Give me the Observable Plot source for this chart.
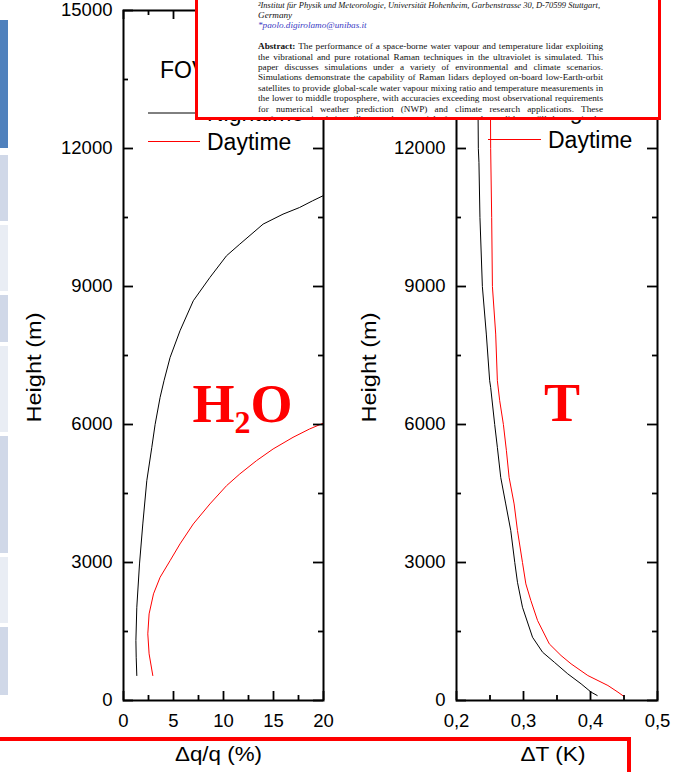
<!DOCTYPE html>
<html>
<head>
<meta charset="utf-8">
<script src="https://cdn.jsdelivr.net/npm/d3@7"></script>
<script src="https://cdn.jsdelivr.net/npm/@observablehq/plot@0.6"></script>
<style>
html, body { margin: 0; padding: 0; background: #fff; }
#page { position: relative; width: 673px; height: 772px; overflow: hidden; background: #fff; font-family: "Liberation Sans", Arial, sans-serif; }
.strip { position: absolute; left: 0; width: 8px; }
.panel { position: absolute; top: 0; }
#left { left: 0; }
#right { left: 340px; }
#abstract { position: absolute; left: 195px; top: -20px; width: 466px; height: 140px; border: 3px solid #f00; box-sizing: border-box; background: #fff; overflow: hidden;
  font-family: "Liberation Serif", "Times New Roman", serif; font-size: 9.2px; line-height: 10.4px; color: #111; padding: 16.6px 0 0 60px; }
.ln { width: 345px; white-space: nowrap; height: 10.4px; }
.it { font-style: italic; }
.mail { color: #3b3bc4; }
#bottombox { position: absolute; left: -10px; top: 737px; width: 641px; height: 80px; border: 4px solid #f00; box-sizing: border-box; }
</style>
</head>
<body>
<div id="page">
  <div class="strip" style="top:20px;height:128px;background:#4f81bd"></div>
  <div class="strip" style="top:155px;height:66px;background:#d0d8e8"></div>
  <div class="strip" style="top:225px;height:66px;background:#e9edf4"></div>
  <div class="strip" style="top:295px;height:47px;background:#d0d8e8"></div>
  <div class="strip" style="top:346px;height:86px;background:#e9edf4"></div>
  <div class="strip" style="top:436px;height:117px;background:#d0d8e8"></div>
  <div class="strip" style="top:557px;height:66px;background:#e9edf4"></div>
  <div class="strip" style="top:627px;height:68px;background:#d0d8e8"></div>
  <div id="left" class="panel"></div>
  <div id="right" class="panel"></div>
  <div id="abstract">
    <div class="ln it fit" data-w="342"><span>²Institut für Physik und Meteorologie, Universität Hohenheim, Garbenstrasse 30, D-70599 Stuttgart,</span></div>
    <div class="ln it">Germany</div>
    <div class="ln it mail">*paolo.digirolamo@unibas.it</div>
    <div class="ln"></div>
    <div class="ln fit" data-w="345"><span><b>Abstract:</b> The performance of a space-borne water vapour and temperature lidar exploiting</span></div>
    <div class="ln fit" data-w="345"><span>the vibrational and pure rotational Raman techniques in the ultraviolet is simulated. This</span></div>
    <div class="ln fit" data-w="345"><span>paper discusses simulations under a variety of environmental and climate scenarios.</span></div>
    <div class="ln fit" data-w="345"><span>Simulations demonstrate the capability of Raman lidars deployed on-board low-Earth-orbit</span></div>
    <div class="ln fit" data-w="345"><span>satellites to provide global-scale water vapour mixing ratio and temperature measurements in</span></div>
    <div class="ln fit" data-w="345"><span>the lower to middle troposphere, with accuracies exceeding most observational requirements</span></div>
    <div class="ln fit" data-w="345"><span>for numerical weather prediction (NWP) and climate research applications. These</span></div>
    <div class="ln fit" data-w="345"><span>performance simulations illustrate the potential of a space-borne lidar to fill the gap in the</span></div>
  </div>
  <div id="bottombox"></div>
</div>
<script>
// ---------- data ----------
const heightTicks = [0, 3000, 6000, 9000, 12000, 15000];
const heightMinor = [1500, 4500, 7500, 10500, 13500];
const h2oTicks = [0, 5, 10, 15, 20];
const h2oMinor = [2.5, 7.5, 12.5, 17.5];
const tTicks = [0.2, 0.3, 0.4, 0.5];
const tMinor = [0.25, 0.35, 0.45];
const seriesNames = ["Nighttime", "Daytime"];
const seriesColors = ["black", "red"];

// [height (m), Δq/q (%)]
const h2oNight = [[543,1.33],[941,1.27],[1303,1.24],[2027,1.33],[2969,1.6],[3838,1.93],[4779,2.33],[5503,2.83],[6000,3.16],[6590,3.66],[6952,4.05],[7458,4.66],[8038,5.65],[8690,6.98],[9196,8.64],[9668,10.3],[9921,11.63],[10356,13.96],[10573,15.95],[10717,17.6],[10862,18.9],[10971,19.94]];
const h2oDay = [[543,2.93],[1014,2.56],[1449,2.43],[1883,2.56],[2318,3.0],[2679,3.66],[3041,4.66],[3404,5.65],[3838,6.98],[4273,8.64],[4671,10.31],[4925,11.63],[5214,13.3],[5468,14.96],[5721,16.95],[5902,18.6],[6025,19.94]];
// [height (m), ΔT (K)]
const tNight = [[109,0.41],[181,0.401],[362,0.386],[580,0.366],[832,0.346],[1049,0.3285],[1375,0.3135],[2027,0.2985],[2570,0.291],[2998,0.287],[3693,0.281],[4273,0.2735],[4851,0.266],[5503,0.261],[6000,0.257],[6807,0.251],[6952,0.2495],[7966,0.2445],[9000,0.2386],[10500,0.235],[11700,0.2335],[12000,0.2326],[13500,0.2318],[15000,0.231]];
const tDay = [[87,0.45],[181,0.441],[326,0.426],[543,0.396],[797,0.371],[978,0.356],[1231,0.3385],[1738,0.321],[2172,0.311],[2535,0.3035],[2998,0.2985],[3693,0.291],[4273,0.286],[4851,0.2785],[5431,0.2745],[6000,0.27],[6517,0.2645],[6952,0.261],[7966,0.2585],[9000,0.2536],[10500,0.2525],[12000,0.251],[13500,0.2505],[15000,0.25]];

const yLabel = "Height (m)";
const h2oXLabel = "\u0394q/q (%)";
const tXLabel = "\u0394T (K)";
const h2oBig = "H2O";
const tBig = "T";
const legendTitle = "FOV";

// ---------- panels ----------
const FONT = "'Liberation Sans', Arial, sans-serif";
function rows(arr, s) { return arr.map(([h, v]) => ({height: h, value: v, series: s})); }

function panel(o) {
  const H = 772, mt = 10, mb = 72;
  const innerH = H - mt - mb;
  const innerW = o.width - o.marginLeft - o.marginRight;
  const svg = Plot.plot({
    width: o.width, height: H,
    marginLeft: o.marginLeft, marginRight: o.marginRight, marginTop: mt, marginBottom: mb,
    style: {fontFamily: FONT, fontSize: "18.5px", color: "black", background: "none", overflow: "visible"},
    x: {domain: o.xDomain},
    y: {domain: [0, 15000]},
    color: {domain: seriesNames, range: seriesColors},
    marks: [
      Plot.line(rows(o.night, seriesNames[0]), {x: "value", y: "height", stroke: "series", strokeWidth: 1}),
      Plot.line(rows(o.day, seriesNames[1]), {x: "value", y: "height", stroke: "series", strokeWidth: 1}),
      Plot.frame({stroke: "black", strokeWidth: 2}),
      Plot.tickX(o.xTicks, {x: d => d, insetTop: innerH - 9, strokeWidth: 1.8}),
      Plot.tickX(o.xMinor, {x: d => d, insetTop: innerH - 5, strokeWidth: 1.8}),
      Plot.tickX(o.xTicks, {x: d => d, insetBottom: innerH - 9, strokeWidth: 1.8}),
      Plot.tickX(o.xMinor, {x: d => d, insetBottom: innerH - 5, strokeWidth: 1.8}),
      Plot.tickY(heightTicks, {y: d => d, insetRight: innerW - 10, strokeWidth: 1.8}),
      Plot.tickY(heightMinor, {y: d => d, insetRight: innerW - 5, strokeWidth: 1.8}),
      Plot.tickY(heightTicks, {y: d => d, insetLeft: innerW - 10, strokeWidth: 1.8}),
      Plot.tickY(heightMinor, {y: d => d, insetLeft: innerW - 5, strokeWidth: 1.8}),
      Plot.axisX({ticks: o.xTicks, tickSize: 0, tickPadding: 13.5, tickFormat: o.xFormat, label: null, fontSize: 18.5}),
      Plot.axisY({ticks: heightTicks, tickSize: 0, tickPadding: 11, tickFormat: d => String(d), label: null, fontSize: 18.5}),
      Plot.text([yLabel], {text: d => d, frameAnchor: "left", textAnchor: "middle", lineAnchor: "middle", rotate: -90, dx: o.yLabelDx, dy: 12, fontSize: 19.5, className: "ylab"}),
      Plot.text([o.xLabel], {text: d => d, frameAnchor: "bottom", textAnchor: "middle", lineAnchor: "middle", dx: o.xLabelDx, dy: 54, fontSize: 19.5, className: "xlab"}),
      Plot.text([o.big], {text: d => d, frameAnchor: "middle", dx: o.bigDx, dy: o.bigDy, fill: "red", fontSize: 54, fontWeight: "bold", fontFamily: "'Liberation Serif', 'Times New Roman', serif", className: "big"})
    ]
  });
  // the reference's axis titles are drawn stretched: fit them to the measured lengths
  d3.select(svg).selectAll(".ylab text").attr("textLength", 110).attr("lengthAdjust", "spacingAndGlyphs");
  d3.select(svg).selectAll(".xlab text").attr("textLength", o.xLabelLength).attr("lengthAdjust", "spacingAndGlyphs");
  return svg;
}

const leftSvg = panel({
  width: 340, marginLeft: 123, marginRight: 17,
  xDomain: [0, 20], xTicks: h2oTicks, xMinor: h2oMinor, xFormat: d => String(d),
  night: h2oNight, day: h2oDay, xLabel: h2oXLabel, xLabelDx: -5, xLabelLength: 87, yLabelDx: -89,
  big: h2oBig, bigDx: 19, bigDy: 49
});
const rightSvg = panel({
  width: 333, marginLeft: 116, marginRight: 16,
  xDomain: [0.2, 0.5], xTicks: tTicks, xMinor: tMinor, xFormat: d => d3.format(".1f")(d).replace(".", ","),
  night: tNight, day: tDay, xLabel: tXLabel, xLabelDx: -4, xLabelLength: 65, yLabelDx: -87,
  big: tBig, bigDx: 5, bigDy: 48
});
document.getElementById("left").appendChild(leftSvg);
document.getElementById("right").appendChild(rightSvg);

// H2O with lowered subscript 2
d3.select(leftSvg).selectAll(".big text").each(function() {
  const t = d3.select(this);
  t.text(null);
  t.append("tspan").text("H");
  t.append("tspan").attr("font-size", 32).attr("dy", 11.5).text("2");
  t.append("tspan").attr("dy", -11.5).text("O");
});

// ---------- legends (inside the panels) ----------
const legendSvg = d3.select("#page").insert("svg", "#abstract")
  .attr("width", 673).attr("height", 772)
  .style("position", "absolute").style("left", "0px").style("top", "0px");
const legendPlaces = [{x0: 148, x1: 200, tx: 207, y0: 113, fovX: 160}, {x0: 488, x1: 541, tx: 548, y0: 111, fovX: 500}];
legendPlaces.forEach(p => {
  legendSvg.append("text").attr("x", p.fovX).attr("y", p.y0 - 35).attr("font-family", FONT).attr("font-size", 23).text(legendTitle);
  seriesNames.forEach((name, i) => {
    const y = p.y0 + i * 28.5;
    legendSvg.append("line").attr("x1", p.x0).attr("x2", p.x1).attr("y1", y).attr("y2", y)
      .attr("stroke", seriesColors[i]).attr("stroke-width", 1);
    legendSvg.append("text").attr("x", p.tx).attr("y", y + 8)
      .attr("font-family", FONT).attr("font-size", 23).attr("fill", "black").text(name);
  });
});

// ---------- justify abstract lines ----------
document.querySelectorAll("#abstract .fit").forEach(el => {
  const span = el.firstElementChild;
  const target = +el.dataset.w;
  let w = span.getBoundingClientRect().width;
  const n = (span.textContent.match(/ /g) || []).length;
  if (w > target + n * 0.5) {
    // too wide even with slightly tighter spaces: shrink the font of this line
    const fs = parseFloat(getComputedStyle(span).fontSize);
    span.style.fontSize = (fs * target / w) + "px";
    w = span.getBoundingClientRect().width;
  }
  if (n > 0) span.style.wordSpacing = ((target - w) / n) + "px";
});
</script>
</body>
</html>
